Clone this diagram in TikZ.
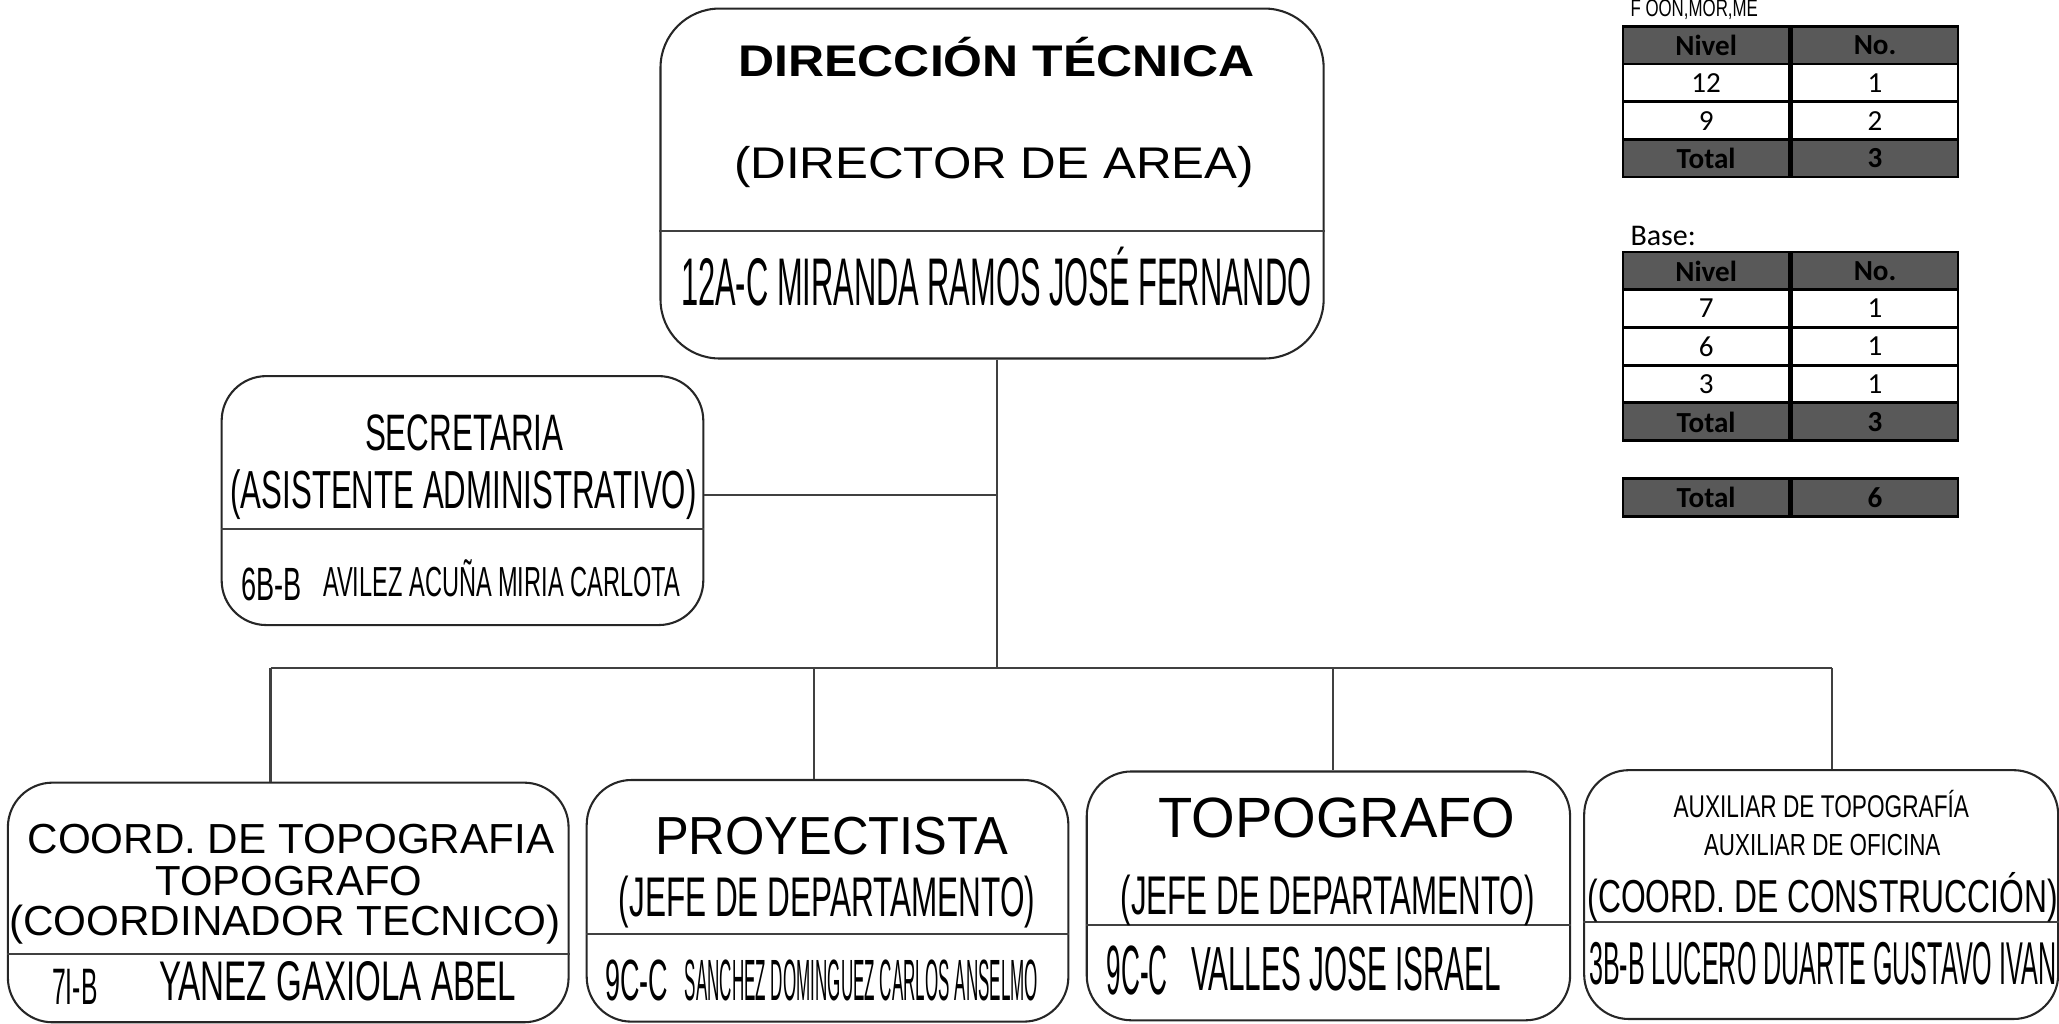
\documentclass[tikz,border=0pt]{standalone}
\usepackage{fontspec}
\usepackage{graphicx}
\setmainfont{Liberation Sans}
\newfontfamily\tabfont{Carlito}
\usetikzlibrary{positioning}
\definecolor{tabgray}{RGB}{89,89,89}
\newlength{\px}\setlength{\px}{0.01cm}
\newcommand{\fs}[1]{\fontsize{#1}{#1}\selectfont}
\newcommand{\fitw}[2]{\resizebox{#1\px}{\height}{#2}} % squeeze text to a width, keep its height
\tikzset{
  orgbox/.style={draw=black!85, line width=0.45pt, rounded corners=0.34cm, inner sep=0pt},
  txt/.style={anchor=base, inner sep=0pt},
  link/.style={draw=black!75, line width=0.45pt},
  bd/.style={draw, line width=0.6pt, fill=white, minimum width=126.5\px, minimum height=28.7\px, inner sep=0pt, font=\tabfont\fs{6.3}},
  hd/.style={bd, fill=tabgray, font=\tabfont\bfseries\fs{6.3}}
}
\begin{document}
\begin{tikzpicture}[x=0.01cm, y=-0.01cm]
  \useasboundingbox (0,0) rectangle (1568,779.8);
  % boxes
  \node[orgbox, rounded corners=0.45cm, minimum width=505\px, minimum height=266.5\px] (dir) at (755.5,139.75) {};
  \node[orgbox, minimum width=366.8\px, minimum height=189.6\px] (sec) at (352.2,381.2) {};
  \node[orgbox, minimum width=427\px, minimum height=182.5\px] (cA) at (219.5,687.25) {};
  \node[orgbox, minimum width=366.8\px, minimum height=184\px] (cB) at (630.2,686) {};
  \node[orgbox, minimum width=368.1\px, minimum height=189.5\px] (cC) at (1011.65,682.25) {};
  \node[orgbox, minimum width=361\px, minimum height=189.5\px] (cD) at (1386.9,681.25) {};
  \draw[link] (dir.west |- 0,176) -- (dir.east |- 0,176);
  \draw[link] (sec.west |- 0,403) -- (sec.east |- 0,403);
  \draw[link] (cA.west |- 0,726.5) -- (cA.east |- 0,726.5);
  \draw[link] (cB.west |- 0,711) -- (cB.east |- 0,711);
  \draw[link] (cC.west |- 0,704.2) -- (cC.east |- 0,704.2);
  \draw[link] (cD.west |- 0,702.4) -- (cD.east |- 0,702.4);
  % texts
  \node[txt, font=\bfseries\fs{9.6}] (t1) at (759,58) {\fitw{393}{DIRECCIÓN TÉCNICA}};
  \node[txt, font=\fs{9.6}] (t2) at (757,135.8) {\fitw{396}{(DIRECTOR DE AREA)}};
  \node[txt, font=\fs{14.6}] (t3) at (758.7,232.3) {\fitw{480}{12A-C MIRANDA RAMOS JOSÉ FERNANDO}};
  \node[txt, font=\fs{11.1}] (s1) at (353.5,342.7) {\fitw{151}{SECRETARIA}};
  \node[txt, font=\fs{11.6}] (s2) at (353,387.2) {\fitw{355}{(ASISTENTE ADMINISTRATIVO)}};
  \node[txt, font=\fs{10.1}] (s3) at (207,457) {\fitw{46}{6B-B}};
  \node[txt, font=\fs{9.1}] (s4) at (382,454.5) {\fitw{271.6}{AVILEZ ACUÑA MIRIA CARLOTA}};
  \node[txt, font=\fs{9.1}] (a1) at (221.5,650) {\fitw{401}{COORD. DE TOPOGRAFIA}};
  \node[txt, font=\fs{9.1}] (a2) at (220,682) {\fitw{203}{TOPOGRAFO}};
  \node[txt, font=\fs{9.1}] (a3) at (217,712.5) {\fitw{420}{(COORDINADOR TECNICO)}};
  \node[txt, font=\fs{11.1}] (a4) at (57,764.6) {\fitw{34.5}{7I-B}};
  \node[txt, font=\fs{12.1}] (a5) at (257,762) {\fitw{271.6}{YANEZ GAXIOLA ABEL}};
  \node[txt, font=\fs{11.6}] (b1) at (633.4,651) {\fitw{269}{PROYECTISTA}};
  \node[txt, font=\fs{12.1}] (b2) at (629.7,698) {\fitw{317}{(JEFE DE DEPARTAMENTO)}};
  \node[txt, font=\fs{12.6}] (b3) at (485,761.6) {\fitw{48}{9C-C}};
  \node[txt, font=\fs{12.6}] (b4) at (656,761.6) {\fitw{269}{SANCHEZ DOMINGUEZ CARLOS ANSELMO}};
  \node[txt, font=\fs{12.3}] (c1) at (1018,638) {\fitw{272}{TOPOGRAFO}};
  \node[txt, font=\fs{11.8}] (c2) at (1011,696.6) {\fitw{315}{(JEFE DE DEPARTAMENTO)}};
  \node[txt, font=\fs{15.1}] (c3) at (866,757) {\fitw{46.5}{9C-C}};
  \node[txt, font=\fs{13.5}] (c4) at (1025,754) {\fitw{236}{VALLES JOSE ISRAEL}};
  \node[txt, font=\fs{6.8}] (d1) at (1387,622.5) {\fitw{225}{AUXILIAR DE TOPOGRAFÍA}};
  \node[txt, font=\fs{6.6}] (d2) at (1387.7,651.7) {\fitw{180}{AUXILIAR DE OFICINA}};
  \node[txt, font=\fs{10}] (d3) at (1388,694.8) {\fitw{358}{(COORD. DE CONSTRUCCIÓN)}};
  \node[txt, font=\fs{13.1}] (d4) at (1388,749.4) {\fitw{355.7}{3B-B LUCERO DUARTE GUSTAVO IVAN}};
  % connectors
  \coordinate (j1) at (759.5,377);
  \coordinate (j2) at (759.5,509);
  \draw[link] (j2 |- dir.south) -- (j2);
  \draw[link] (sec.east |- j1) -- (j1);
  \coordinate (bl) at (206,509);
  \coordinate (br) at (1395,509);
  \draw[link] (bl) -- (br);
  \foreach \x/\n in {206/cA, 620/cB, 1015/cC, 1395/cD}{
    \coordinate (d) at (\x,509);
    \draw[link] (d) -- (d |- \n.north);
  }
  % tables
  \node[txt, anchor=base west, font=\fs{5.2}] (fo) at (1241,12.2) {\fitw{97}{F OON,MOR,ME}};
  \node[txt, anchor=base west, font=\tabfont\fs{6.5}] (base) at (1241,186.6) {Base:};
  \foreach \y/\a/\b/\s [count=\i] in {19/Nivel/No./hd, 47.7/12/1/bd, 76.4/9/2/bd, 105.1/Total/3/hd,
      190.9/Nivel/No./hd, 219.6/7/1/bd, 248.3/6/1/bd, 277/3/1/bd, 305.9/Total/3/hd, 363.5/Total/6/hd}{
    \node[\s, anchor=north west] (l\i) at (1235,\y) {\a};
    \node[\s, right=0pt of l\i] (r\i) {\b};
  }
\end{tikzpicture}
\end{document}
